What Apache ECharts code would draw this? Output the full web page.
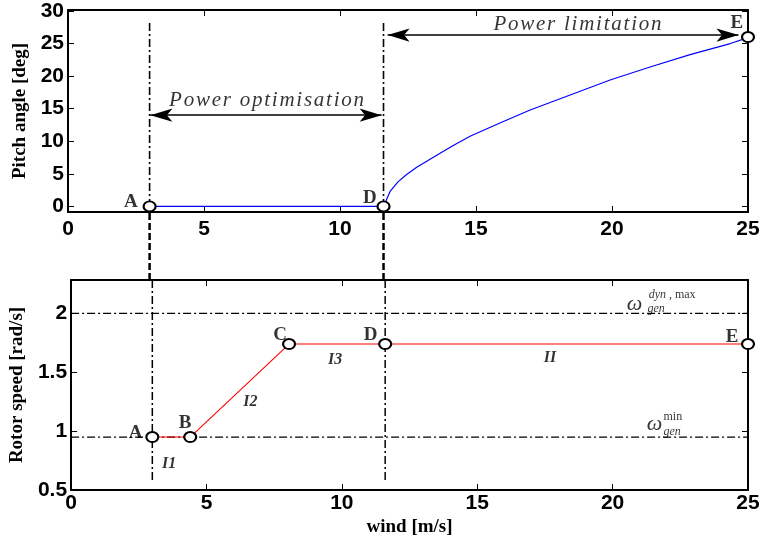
<!DOCTYPE html>
<html><head><meta charset="utf-8">
<script src="https://cdn.jsdelivr.net/npm/echarts@6/dist/echarts.min.js"></script>
<style>html,body{margin:0;padding:0;background:#fff}#c{width:764px;height:540px}</style>
</head><body><div id="c"></div>
<script>
// ---- data ----
const xTicks = [0, 5, 10, 15, 20, 25];
const pitchTicks = [0, 5, 10, 15, 20, 25, 30];
const speedTicks = [0.5, 1, 1.5, 2];
const pitchWind = [3, 11.6, 11.84, 12.14, 12.45, 12.82, 13.25, 13.74, 14.23, 14.8, 15.88, 16.99, 18.46, 19.93, 21.4, 22.87, 24.35, 25];
const pitchDeg  = [0, 0, 2.3, 3.8, 4.9, 6.0, 7.1, 8.3, 9.5, 10.8, 12.8, 14.8, 17.1, 19.4, 21.4, 23.3, 25.0, 25.9];
const speedWind = [3, 4.4, 8.05, 11.6, 25];
const speedVal  = [0.95, 0.95, 1.74, 1.74, 1.74];
const pitchPtNames = ['A', 'D', 'E'];
const pitchPtWind = [3, 11.6, 25];
const pitchPtDeg = [0, 0, 26];
const speedPtNames = ['A', 'B', 'C', 'D', 'E'];
const speedPtWind = [3, 4.4, 8.05, 11.6, 25];
const speedPtVal = [0.95, 0.95, 1.74, 1.74, 1.74];
const omegaMin = 0.95, omegaMax = 2.0;
const boundaryWind = [3, 11.6];
const pitchMin = -0.86, pitchMax = 30.15;
const speedMin = 0.5, speedMax = 2.284;
const boundaryTopDeg = 28.15, boundaryBottomSpeed = 0.568;
// annotation text anchors (data space)
const pitchLblWind = [2.31, 11.1, 24.59];
const pitchLblDeg = [0.6, 1.29, 28.1];
const speedLblWind = [2.38, 4.21, 7.72, 11.06, 24.41];
const speedLblVal = [0.984, 1.069, 1.816, 1.816, 1.802];
const regionNames = ['I1', 'I2', 'I3', 'II'];
const regionWind = [3.62, 6.62, 9.75, 17.69];
const regionVal = [0.72, 1.25, 1.604, 1.625];
const optArrow = {from: 3.03, to: 11.53, deg: 14.0, text: 'Power optimisation', textWind: 7.3, textDeg: 16.2};
const limArrow = {from: 11.75, to: 24.65, deg: 26.3, text: 'Power limitation', textWind: 18.73, textDeg: 27.85};

// ---- chart ----
const chart = echarts.init(document.getElementById('c'), null, {renderer: 'canvas'});
const sansBold = {fontFamily: 'Liberation Sans, Arial', fontWeight: 'bold', fontSize: 21, color: '#000'};
const serifBold = {fontFamily: 'Liberation Serif, Times New Roman', fontWeight: 'bold', color: '#000'};
const dashDot = [8, 3, 2, 3];

function xAx(gi, position, showLabels, margin, extra) {
  return Object.assign({
    type: 'value', gridIndex: gi, position: position, min: 0, max: 25, interval: 5,
    axisLine: {show: true, onZero: false, lineStyle: {color: '#000', width: 2}},
    axisTick: {show: true, inside: true, length: 6, lineStyle: {color: '#000', width: 1}},
    axisLabel: showLabels ? Object.assign({show: true, margin: margin}, sansBold) : {show: false},
    splitLine: {show: false}
  }, extra || {});
}
function yAx(gi, position, min, max, ticks, showLabels, extra) {
  return Object.assign({
    type: 'value', gridIndex: gi, position: position, min: min, max: max,
    axisLine: {show: true, onZero: false, lineStyle: {color: '#000', width: 2}},
    axisTick: {show: true, inside: true, length: 6, customValues: ticks, lineStyle: {color: '#000', width: 1}},
    axisLabel: showLabels ? Object.assign({show: true, margin: 4, customValues: ticks}, sansBold) : {show: false},
    splitLine: {show: false}
  }, extra || {});
}
function textSeries(xi, yi, xs, ys, texts, style, align) {
  return {
    type: 'scatter', xAxisIndex: xi, yAxisIndex: yi, symbolSize: 0, silent: true, clip: false, z: 10,
    data: xs.map((x, i) => [x, ys[i]]),
    label: Object.assign({show: true, position: 'inside', align: align || 'center', verticalAlign: 'middle',
      formatter: p => texts[p.dataIndex]}, style)
  };
}
function markerSeries(xi, yi, xs, ys) {
  return {
    type: 'scatter', xAxisIndex: xi, yAxisIndex: yi, clip: false, silent: true, z: 8,
    symbol: 'circle', symbolSize: [12, 10],
    itemStyle: {color: '#fff', borderColor: '#000', borderWidth: 2, opacity: 1},
    data: xs.map((x, i) => [x, ys[i]])
  };
}
function vline(xi, yi, x, y0, y1, style) {
  return {type: 'line', xAxisIndex: xi, yAxisIndex: yi, symbol: 'none', silent: true, clip: false,
    data: [[x, y0], [x, y1]], lineStyle: style, z: 3};
}
function hline(xi, yi, y, style) {
  return {type: 'line', xAxisIndex: xi, yAxisIndex: yi, symbol: 'none', silent: true,
    data: [[0, y], [25, y]], lineStyle: style, z: 3};
}
function arrowSeries(a) {
  return {type: 'line', xAxisIndex: 0, yAxisIndex: 0, data: [], silent: true,
    markLine: {silent: true, symbol: ['arrow', 'arrow'], symbolSize: [10, 22], label: {show: false},
      lineStyle: {color: '#000', width: 1.5, type: 'solid'},
      data: [[{coord: [a.from, a.deg]}, {coord: [a.to, a.deg]}]]}};
}

const italicSerif = {fontFamily: 'Liberation Serif, Times New Roman', fontStyle: 'italic', fontSize: 21, color: '#000'};
function spaced(s) { return s.split('').join('\u200A'); }

const option = {
  animation: false,
  backgroundColor: '#fff',
  grid: [
    {left: 68, right: 16, top: 10, height: 202},
    {left: 68, right: 16, top: 280, height: 210},
    {left: 68, right: 16, top: 212, height: 68, show: false}
  ],
  xAxis: [
    xAx(0, 'bottom', true, 7),
    xAx(0, 'top', false),
    xAx(1, 'bottom', true, 3, {name: 'wind [m/s]', nameLocation: 'middle', nameGap: 28,
      nameTextStyle: Object.assign({fontSize: 19}, serifBold)}),
    xAx(1, 'top', false),
    {type: 'value', gridIndex: 2, min: 0, max: 25, show: false}
  ],
  yAxis: [
    yAx(0, 'left', pitchMin, pitchMax, pitchTicks, true, {name: 'Pitch angle [deg]', nameLocation: 'middle', nameGap: 36,
      nameTextStyle: Object.assign({fontSize: 19}, serifBold)}),
    yAx(0, 'right', pitchMin, pitchMax, pitchTicks, false),
    yAx(1, 'left', speedMin, speedMax, speedTicks, true, {name: 'Rotor speed [rad/s]', nameLocation: 'middle', nameGap: 36,
      nameTextStyle: Object.assign({fontSize: 19}, serifBold)}),
    yAx(1, 'right', speedMin, speedMax, speedTicks, false),
    {type: 'value', gridIndex: 2, min: 0, max: 1, show: false}
  ],
  series: [
    // top plot
    {type: 'line', xAxisIndex: 0, yAxisIndex: 0, symbol: 'none', smooth: false, z: 5,
      data: pitchWind.map((w, i) => [w, pitchDeg[i]]), lineStyle: {color: '#0000ff', width: 1.2}},
    vline(0, 0, boundaryWind[0], boundaryTopDeg, pitchMin, {color: '#000', width: 1.6, type: dashDot}),
    vline(0, 0, boundaryWind[1], boundaryTopDeg, pitchMin, {color: '#000', width: 1.6, type: dashDot}),
    arrowSeries(optArrow),
    arrowSeries(limArrow),
    textSeries(0, 0, [optArrow.textWind], [optArrow.textDeg], [spaced(optArrow.text)], italicSerif),
    textSeries(0, 0, [limArrow.textWind], [limArrow.textDeg], [spaced(limArrow.text)], italicSerif),
    markerSeries(0, 0, pitchPtWind, pitchPtDeg),
    textSeries(0, 0, pitchLblWind, pitchLblDeg, pitchPtNames, Object.assign({fontSize: 19}, serifBold)),
    // gap
    vline(4, 4, boundaryWind[0], 0, 1, {color: '#000', width: 2.5, type: [7, 3]}),
    vline(4, 4, boundaryWind[1], 0, 1, {color: '#000', width: 2.5, type: [7, 3]}),
    // bottom plot
    hline(2, 2, omegaMax, {color: '#000', width: 1.3, type: dashDot}),
    hline(2, 2, omegaMin, {color: '#000', width: 1.3, type: dashDot}),
    vline(2, 2, boundaryWind[0], speedMax, boundaryBottomSpeed, {color: '#000', width: 1.5, type: dashDot}),
    vline(2, 2, boundaryWind[1], speedMax, boundaryBottomSpeed, {color: '#000', width: 1.5, type: dashDot}),
    {type: 'line', xAxisIndex: 2, yAxisIndex: 2, symbol: 'none', z: 5,
      data: speedWind.map((w, i) => [w, speedVal[i]]), lineStyle: {color: '#ff0000', width: 1.1}},
    markerSeries(2, 2, speedPtWind, speedPtVal),
    textSeries(2, 2, speedLblWind, speedLblVal, speedPtNames, Object.assign({fontSize: 19}, serifBold)),
    textSeries(2, 2, regionWind, regionVal, regionNames,
      {fontFamily: 'Liberation Serif, Times New Roman', fontWeight: 'bold', fontStyle: 'italic', fontSize: 16, color: '#000'}),
    // omega labels
    textSeries(2, 2, [20.81, 21.55], [2.08, 1.06], ['ω', 'ω'], Object.assign({}, italicSerif, {fontSize: 22})),
    textSeries(2, 2, [21.33], [2.156], ['{i|dyn}{n| , max}'], {rich: {
      i: {fontFamily: 'Liberation Serif', fontStyle: 'italic', fontSize: 12, color: '#000'},
      n: {fontFamily: 'Liberation Serif', fontSize: 12, color: '#000'}}}, 'left'),
    textSeries(2, 2, [21.88], [1.124], ['min'], {fontFamily: 'Liberation Serif', fontSize: 12, color: '#000'}, 'left'),
    textSeries(2, 2, [21.29, 21.88], [2.037, 0.997], ['gen', 'gen'],
      {fontFamily: 'Liberation Serif', fontStyle: 'italic', fontSize: 12, color: '#000'}, 'left')
  ]
};
chart.setOption(option);
</script></body></html>
